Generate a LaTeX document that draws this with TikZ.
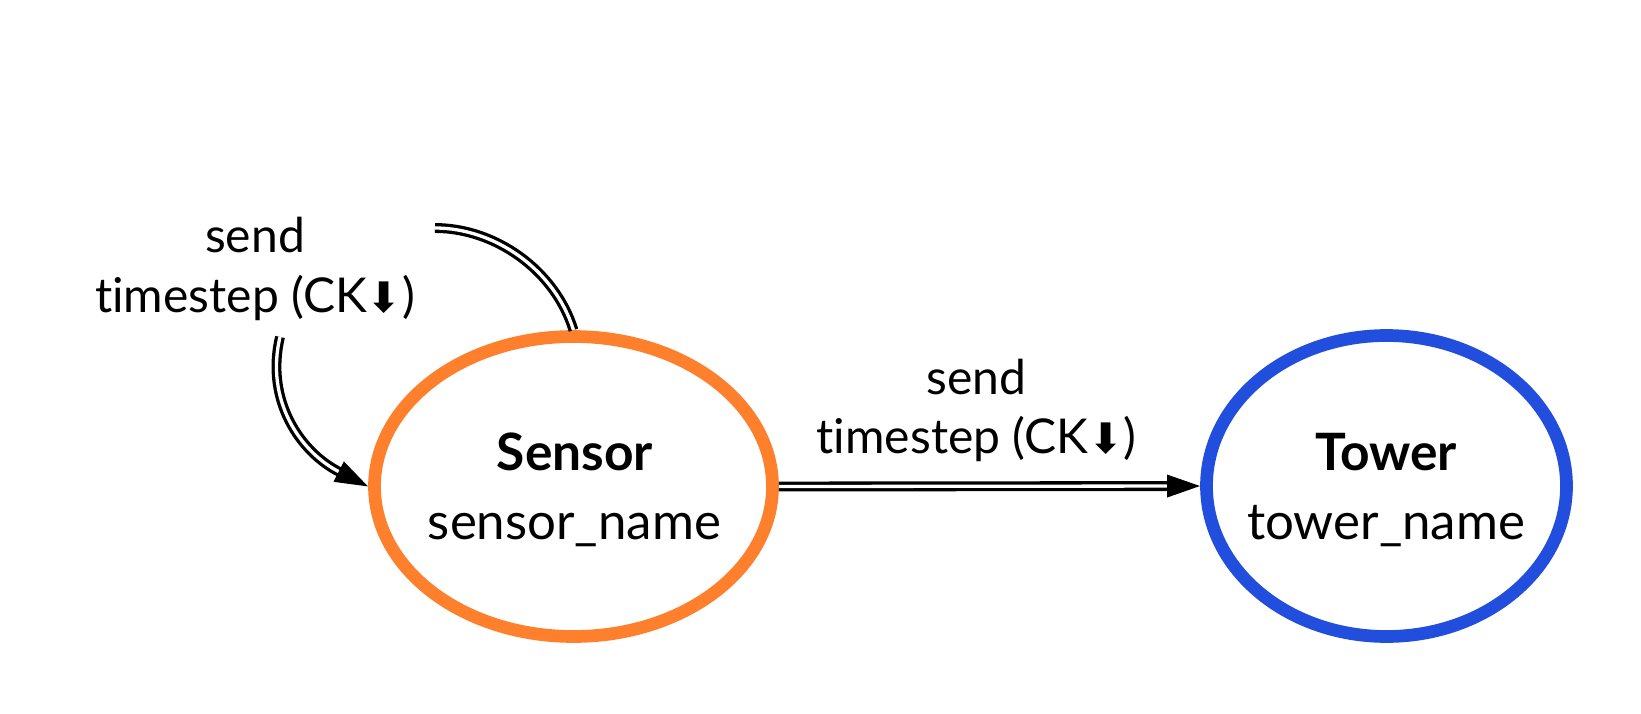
\documentclass[tikz,border=0pt]{standalone}
\usepackage{fontspec}
\setmainfont{Lato}[Ligatures={NoCommon,NoRequired,NoContextual}]
\newfontfamily\arrowfont{DejaVu Sans}
\usetikzlibrary{arrows.meta,shapes.geometric}
\definecolor{sensororange}{RGB}{254,128,44}
\definecolor{towerblue}{RGB}{34,78,222}
\newcommand{\ckdn}{{\arrowfont\fontsize{42}{42}\selectfont ⬇}}
\begin{document}
\begin{tikzpicture}[x=1pt,y=-1pt,
  stateshape/.style={ellipse, line width=12.7pt, inner sep=0pt},
  edgelbl/.style={font=\fontsize{48}{58}\selectfont, anchor=base, inner sep=0pt},
  titlelbl/.style={font=\fontsize{51.5}{69}\selectfont\bfseries, anchor=base, inner sep=0pt},
  namelbl/.style={font=\fontsize{51}{69}\selectfont, anchor=base, inner sep=0pt},
  flowline/.style={draw=black, double=white, line width=3.3pt, double distance=3.3pt},
  flowarrow/.style={flowline, -{Triangle[length=33pt,width=22pt]}}
]
\useasboundingbox (0,0) rectangle (1641,713);
\fill[white] (0,0) rectangle (1641,713);

% states
\node[stateshape, draw=sensororange, minimum width=398pt, minimum height=300pt] (S) at (573.5,486.5) {};
\node[stateshape, draw=towerblue, minimum width=360pt, minimum height=301pt] (T) at (1386.5,486) {};

\node[titlelbl] (Stitle) at (575,470) {Sensor};
\node[namelbl] (Sname) at (574.5,539) {sensor\_name};
\node[titlelbl] (Ttitle) at (1386,470) {Tower};
\node[namelbl] (Tname) at (1386,539) {tower\_name};

% edge labels
\node[edgelbl] (L1a) at (255,252) {send};
\node[edgelbl] (L1b) at (255,312) {timestep (CK\ckdn)};
\node[edgelbl] (L2a) at (976.5,394) {send};
\node[edgelbl] (L2b) at (976.5,453) {timestep (CK\ckdn)};

% self loop on Sensor
\coordinate (loopend) at (435,228);
\coordinate (loopstart) at (280,337);
\draw[flowline] (S.north) .. controls (555,270) and (495,228) .. (loopend);
\draw[flowarrow] (loopstart) .. controls (265,400) and (300,452) .. (S.west);

% Sensor -> Tower
\draw[flowarrow] (S.east) -- (T.west);
\end{tikzpicture}
\end{document}
